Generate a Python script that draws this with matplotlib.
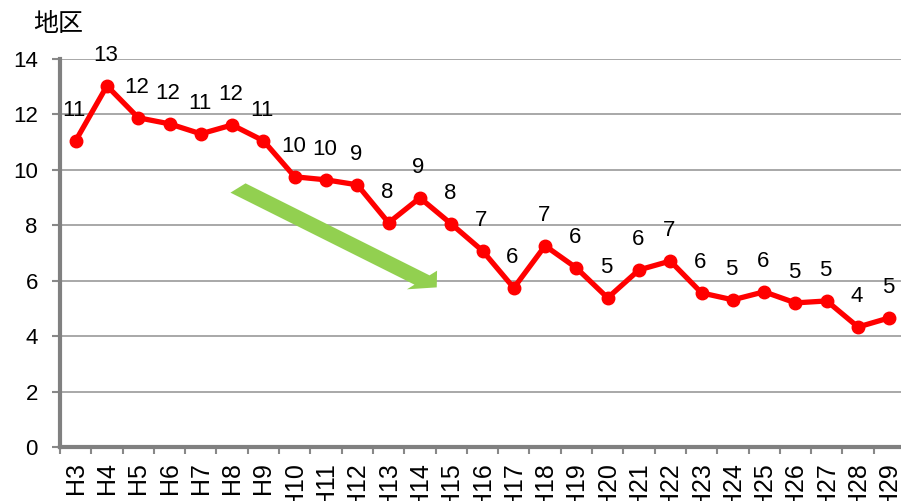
import matplotlib
matplotlib.use("Agg")
import matplotlib.pyplot as plt
from matplotlib.ticker import FixedLocator

plt.rcParams['font.family'] = ['Liberation Sans', 'Noto Sans CJK JP', 'DejaVu Sans']

# 年度と地区数
years = ["H3", "H4", "H5", "H6", "H7", "H8", "H9", "H10", "H11", "H12",
         "H13", "H14", "H15", "H16", "H17", "H18", "H19", "H20", "H21",
         "H22", "H23", "H24", "H25", "H26", "H27", "H28", "H29"]
counts = [11.05, 13.03, 11.88, 11.66, 11.30, 11.62, 11.05, 9.75, 9.64, 9.46,
          8.09, 8.99, 8.05, 7.08, 5.74, 7.26, 6.46, 5.38, 6.39, 6.71,
          5.56, 5.31, 5.60, 5.20, 5.27, 4.33, 4.66]
yticks = [0, 2, 4, 6, 8, 10, 12, 14]

W, H = 901, 501
fig = plt.figure(figsize=(W / 100, H / 100), dpi=100)
ax = fig.add_axes([60 / W, (H - 447) / H, (905 - 60) / W, (447 - 59) / H])

x = list(range(len(years)))
ax.plot(x, counts, color='#FF0000', lw=3.8, marker='o', ms=9, zorder=3, clip_on=False)

for xi, v in zip(x, counts):
    ax.annotate(f"{round(v)}", (xi, v), xytext=(-1, 22), textcoords='offset points',
                ha='center', va='center', fontsize=16, color='black')

ax.set_xlim(-0.5, len(years) - 0.5)
ax.set_ylim(0, 14)
ax.set_yticks(yticks)
ax.set_xticks(x)
ax.set_xticklabels(years, rotation=90, fontsize=18, va='top', ha='center')
ax.xaxis.set_minor_locator(FixedLocator([i - 0.5 for i in range(len(years) + 1)]))
ax.tick_params(axis='x', which='major', length=0, pad=11)
ax.tick_params(axis='x', which='minor', length=5, width=1.5, color='#888888')
ax.tick_params(axis='y', length=6, width=1.5, color='#888888', labelsize=16, pad=10)

ax.grid(axis='y', color='#999999', lw=1.2)
ax.set_axisbelow(True)
for s in ['top', 'right']:
    ax.spines[s].set_visible(False)
for s in ['left', 'bottom']:
    ax.spines[s].set_color('#808080')
    ax.spines[s].set_linewidth(3)

# 減少傾向の矢印
fig.add_artist(matplotlib.patches.FancyArrow(
    238 / W, 1 - 188 / H, (422 - 238) / W, -(280 - 188) / H,
    width=0.025, head_width=0.05, head_length=0.022, length_includes_head=False,
    color='#92D050', transform=fig.transFigure, ec='none'))

fig.text(33 / W, 1 - 24 / H, "地区", fontsize=18, va='center', ha='left',
         family=['Noto Sans CJK JP'])

fig.savefig("out.png", dpi=100)
